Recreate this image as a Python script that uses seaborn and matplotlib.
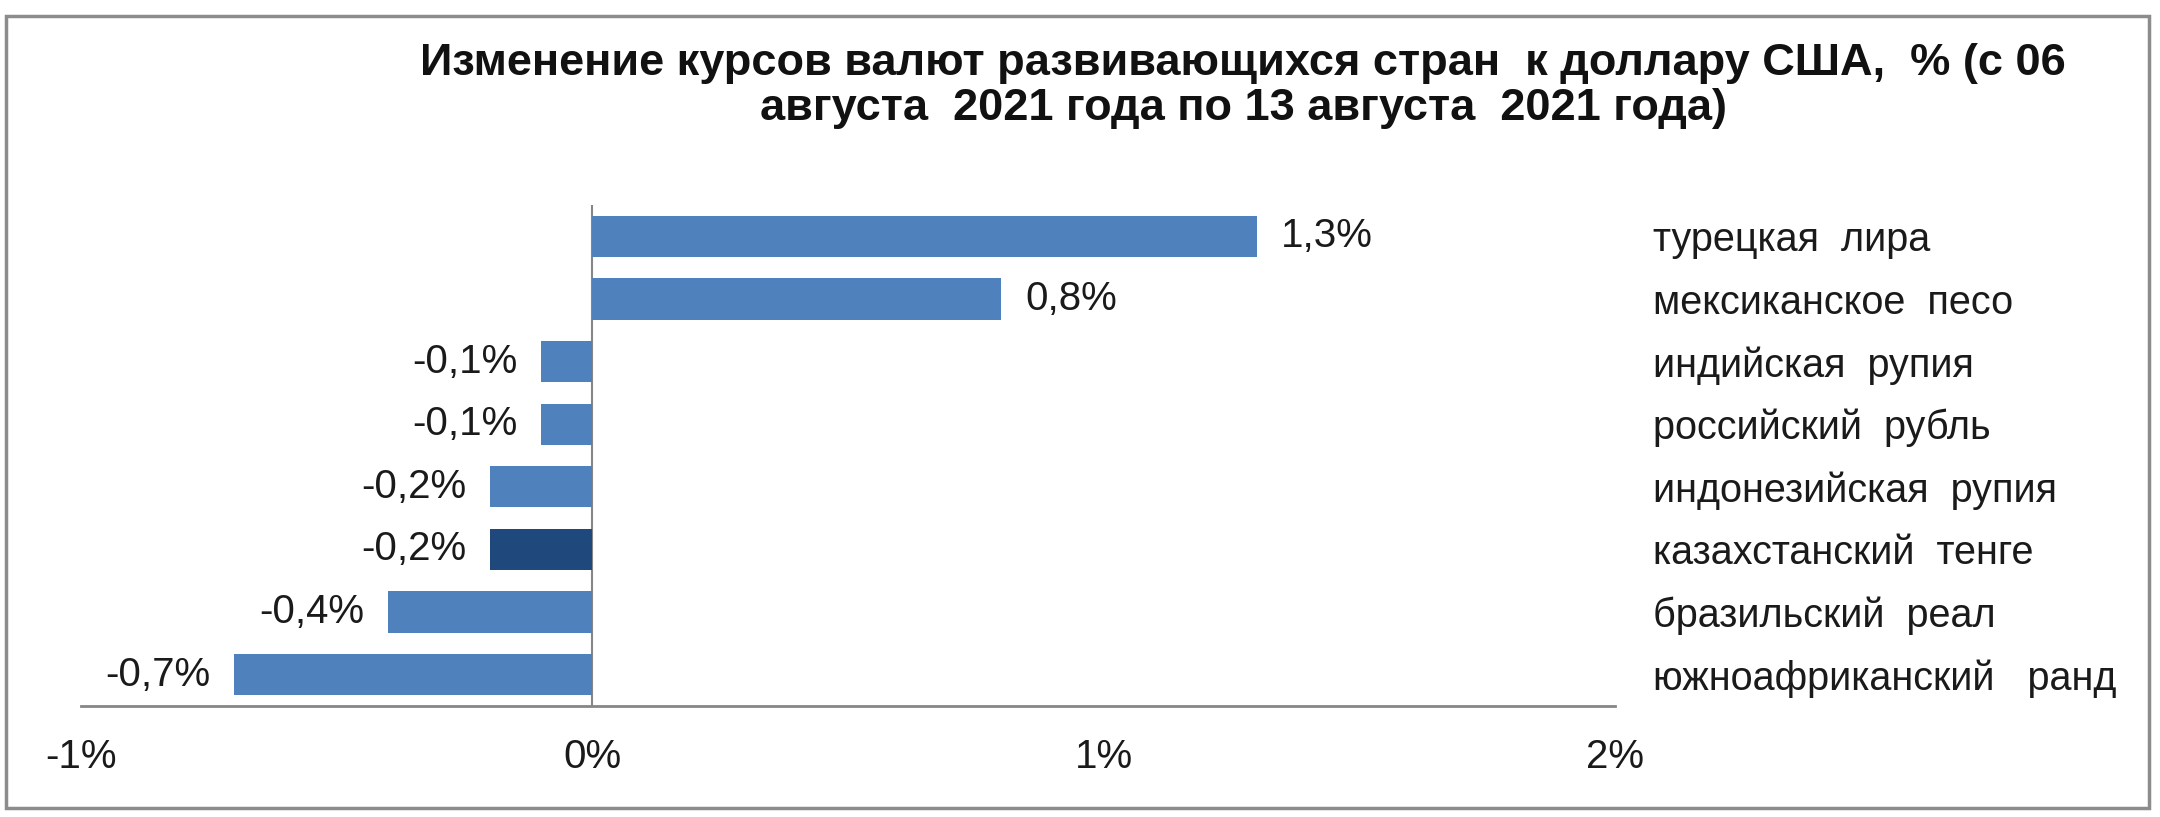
import numpy as np
import matplotlib
matplotlib.use('Agg')
import matplotlib.pyplot as plt
from matplotlib.patches import Rectangle
import seaborn as sns

# data
currencies = ['турецкая  лира', 'мексиканское  песо', 'индийская  рупия',
              'российский  рубль', 'индонезийская  рупия', 'казахстанский  тенге',
              'бразильский  реал', 'южноафриканский   ранд']
changes = [1.3, 0.8, -0.1, -0.1, -0.2, -0.2, -0.4, -0.7]
bar_colors = ['#4f81bd', '#4f81bd', '#4f81bd', '#4f81bd', '#4f81bd', '#1f497d', '#4f81bd', '#4f81bd']
x_ticks = [-1, 0, 1, 2]
title = ('Изменение курсов валют развивающихся стран  к доллару США,  % (с 06\n'
         'августа  2021 года по 13 августа  2021 года)')

sns.set_style('white')
fonts = ['Liberation Sans', 'DejaVu Sans']
plt.rcParams['font.family'] = fonts
txt_color = '#1a1a1a'

fig = plt.figure(figsize=(21.6, 8.17), dpi=100)
ax = fig.add_axes([0.0375, 0.136, 0.7102, 0.613])

sns.barplot(x=changes, y=currencies, hue=currencies, palette=bar_colors,
            orient='h', width=0.66, saturation=1, legend=False, ax=ax,
            linewidth=0)

ax.set_xlim(-1, 2)
ax.set_ylim(7.5, -0.5)
ax.axvline(0, color='#868686', lw=1.5, zorder=0)

for loc, spine in ax.spines.items():
    if loc == 'bottom':
        spine.set_color('#868686')
        spine.set_linewidth(2)
    else:
        spine.set_visible(False)

ax.set_xticks(x_ticks)
ax.set_xticklabels(['%d%%' % t for t in x_ticks], fontsize=29)
ax.tick_params(axis='x', length=0, pad=23, colors=txt_color)

ax.yaxis.tick_right()
ax.set_yticks(range(len(currencies)))
ax.set_yticklabels(currencies, fontsize=28.5)
ax.tick_params(axis='y', length=0, pad=27, colors=txt_color)
ax.set_xlabel('')
ax.set_ylabel('')

for cont in ax.containers:
    ax.bar_label(cont, fmt=lambda v: ('%.1f%%' % v).replace('.', ','),
                 padding=17, fontsize=29, color=txt_color)

fig.text(0.5755, 1 - 86 / 817, title, ha='center', va='center', fontsize=32.5,
         fontweight='bold', linespacing=1.1, color='#111111')

fig.patches.append(Rectangle((0.003, 0.011), 0.992, 0.97, transform=fig.transFigure,
                             fill=False, edgecolor='#8c8c8c', linewidth=2.5))

fig.savefig('out.png', dpi=100, facecolor='white')
